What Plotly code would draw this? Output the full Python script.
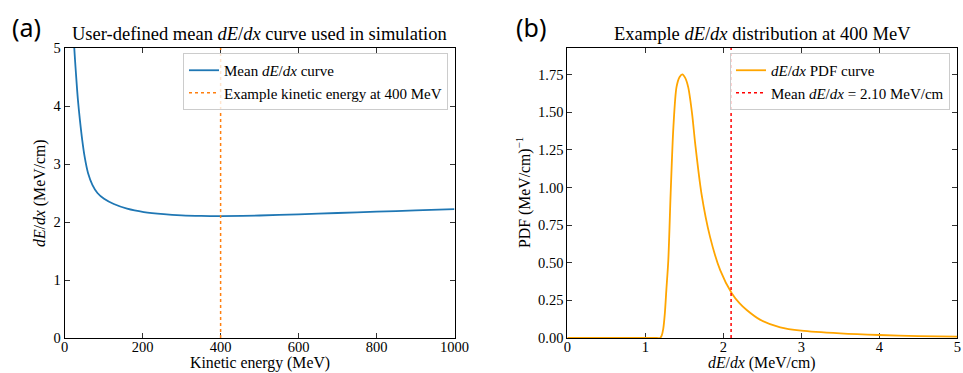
import plotly.graph_objects as go

# Panel (a): mean dE/dx versus kinetic energy
kinetic_energy = [20, 24, 29, 34, 39, 45, 51, 60, 71, 84, 101, 126, 160, 203, 254, 300,
                  350, 400, 500, 600, 700, 800, 900, 1000]
mean_dedx = [5.75, 5.07, 4.55, 4.10, 3.76, 3.41, 3.13, 2.84, 2.64, 2.50, 2.40, 2.31, 2.23,
             2.172, 2.135, 2.115, 2.105, 2.102, 2.112, 2.132, 2.155, 2.178, 2.20, 2.222]
example_energy = 400

# Panel (b): dE/dx probability density at the example energy
dedx_values = [0.0, 0.5, 1.0, 1.15, 1.19, 1.21, 1.23, 1.25, 1.27, 1.295, 1.325, 1.36, 1.40,
               1.44, 1.475, 1.51, 1.55, 1.60, 1.64, 1.72, 1.83, 1.96, 2.11, 2.21, 2.30,
               2.47, 2.73, 3.0, 3.5, 4.0, 4.5, 5.0]
pdf_values = [0.0, 0.0, 0.0, 0.0, 0.0, 0.015, 0.06, 0.16, 0.32, 0.517, 0.96, 1.40, 1.667,
              1.735, 1.752, 1.73, 1.667, 1.49, 1.29, 0.96, 0.672, 0.451, 0.296, 0.23, 0.186,
              0.122, 0.071, 0.049, 0.031, 0.020, 0.013, 0.009]
mean_value = 2.10

SERIF = "Liberation Serif, Times New Roman, serif"
TICK_FONT = dict(family=SERIF, size=14.5, color="black")
LABEL_FONT = dict(family=SERIF, size=15.8, color="black")
LEGEND_FONT = dict(family=SERIF, size=15, color="black")

W, H = 963, 373

fig = go.Figure()

fig.add_trace(go.Scatter(
    x=kinetic_energy, y=mean_dedx, mode="lines", line_shape="spline",
    line=dict(color="#1f77b4", width=1.8, smoothing=0.9),
    name="Mean <i>dE</i>/<i>dx</i> curve", xaxis="x", yaxis="y", legend="legend"))
fig.add_trace(go.Scatter(
    x=[example_energy, example_energy], y=[0, 5], mode="lines",
    line=dict(color="#ff7f0e", width=1.5, dash="dot"),
    name="Example kinetic energy at 400 MeV", xaxis="x", yaxis="y", legend="legend"))

fig.add_trace(go.Scatter(
    x=dedx_values, y=pdf_values, mode="lines", line_shape="spline",
    line=dict(color="#ffa500", width=1.8, smoothing=0.8),
    name="<i>dE</i>/<i>dx</i> PDF curve", xaxis="x2", yaxis="y2", legend="legend2"))
pdf_top = 1.1 * max(pdf_values)
fig.add_trace(go.Scatter(
    x=[mean_value, mean_value], y=[0, pdf_top], mode="lines",
    line=dict(color="#ff0000", width=1.5, dash="dot"),
    name=f"Mean <i>dE</i>/<i>dx</i> = {mean_value:.2f} MeV/cm",
    xaxis="x2", yaxis="y2", legend="legend2"))

axis_common = dict(
    showline=True, linecolor="black", linewidth=1, mirror="ticks",
    ticks="inside", ticklen=5, tickwidth=1, tickcolor="#333333",
    showgrid=False, zeroline=False, tickfont=TICK_FONT, layer="below traces",
    automargin=False,
)
x_extra = dict(ticklabelstandoff=-4)

y_dom = [35 / H, 325 / H]
left_x = (64.7, 454.5)
right_x = (567.3, 957.3)

legend_common = dict(
    xanchor="right", yanchor="top", bgcolor="rgba(255,255,255,0.8)",
    bordercolor="#cccccc", borderwidth=1, font=LEGEND_FONT,
    tracegroupgap=0, itemwidth=30,
)

fig.update_layout(
    width=W, height=H,
    margin=dict(l=0, r=0, t=0, b=0, autoexpand=False),
    paper_bgcolor="white", plot_bgcolor="white",
    xaxis=dict(domain=[left_x[0] / W, left_x[1] / W], range=[0, 1000],
               tickvals=[0, 200, 400, 600, 800, 1000], anchor="y", **axis_common, **x_extra),
    yaxis=dict(domain=y_dom, range=[0, 5], tickvals=[0, 1, 2, 3, 4, 5], anchor="x",
               **axis_common),
    xaxis2=dict(domain=[right_x[0] / W, right_x[1] / W], range=[0, 5],
                tickvals=[0, 1, 2, 3, 4, 5], anchor="y2", **axis_common, **x_extra),
    yaxis2=dict(domain=y_dom, range=[0, pdf_top],
                tickvals=[0, 0.25, 0.5, 0.75, 1.0, 1.25, 1.5, 1.75], tickformat=".2f",
                anchor="x2", **axis_common),
    legend=dict(x=448 / W, y=(H - 53) / H, **legend_common),
    legend2=dict(x=950 / W, y=(H - 53) / H, **legend_common),
    showlegend=True,
)


def paper_text(text, px, py, font, xanchor="center", yanchor="middle", angle=0):
    fig.add_annotation(text=text, x=px / W, y=(H - py) / H, xref="paper", yref="paper",
                       xanchor=xanchor, yanchor=yanchor, showarrow=False, textangle=angle,
                       font=font)


# Panel titles
title_font = dict(family=SERIF, size=18.5, color="black")
paper_text("User-defined mean <i>dE</i>/<i>dx</i> curve used in simulation",
           sum(left_x) / 2, 34, title_font)
paper_text("Example <i>dE</i>/<i>dx</i> distribution at 400 MeV", sum(right_x) / 2, 34,
           title_font)

# Axis titles
mid_y = (48 + 338) / 2
paper_text("Kinetic energy (MeV)", sum(left_x) / 2, 374, LABEL_FONT, yanchor="bottom")
paper_text("<i>dE</i>/<i>dx</i> (MeV/cm)", sum(right_x) / 2, 374, LABEL_FONT,
           yanchor="bottom")
paper_text("<i>dE</i>/<i>dx</i> (MeV/cm)", 40, mid_y, LABEL_FONT, angle=-90)
paper_text("PDF (MeV/cm)<sup>−1</sup>", 523, mid_y, LABEL_FONT, angle=-90)

# Panel letters
letter_font = dict(family="Noto Sans, DejaVu Sans, sans-serif", size=25, color="black")
paper_text("(a)", 10, 27, letter_font, xanchor="left")
paper_text("(b)", 514, 27, letter_font, xanchor="left")

fig.write_html("out.html")
